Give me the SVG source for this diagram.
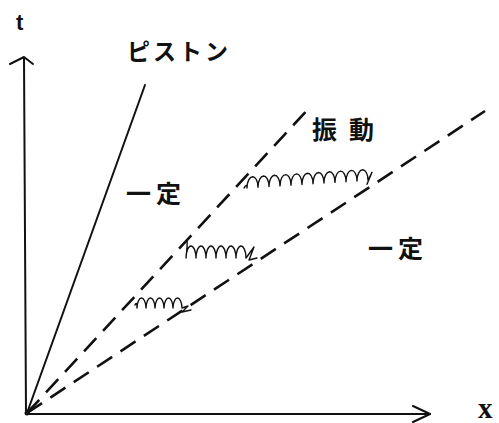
<svg xmlns="http://www.w3.org/2000/svg" width="499" height="423" viewBox="0 0 499 423">
<style>
.ax{fill:none;stroke:#111;stroke-width:2;stroke-linecap:round;stroke-linejoin:round}
.dash{fill:none;stroke:#111;stroke-width:2.6;stroke-dasharray:18 10;stroke-linecap:butt}
.wave{fill:none;stroke:#111;stroke-width:1.4;stroke-linecap:round;stroke-linejoin:round}
.jp{font-family:"Noto Sans CJK JP","Noto Sans CJK SC",sans-serif;font-weight:bold;fill:#111}
.lat{font-weight:bold;fill:#111}
</style>
<rect width="499" height="423" fill="#fff"/>
<g id="connectors">
  <path class="ax" d="M26,414 L24,58"/>
  <polyline class="ax" points="10,64 24,57 33,64"/>
  <path class="ax" d="M26,414 L430,414"/>
  <polyline class="ax" points="413,406 430,414 413,422"/>
  <path class="ax" d="M27,413 L145,85"/>
  <path class="dash" d="M27,413 L311,106"/>
  <path class="dash" d="M27,413 L485,111"/>
  <circle cx="27" cy="413" r="2.5" fill="#111"/>
</g>
<g id="wave-low">
  <path class="wave" d="M135,305 c1,-2 2,-3 2,3 c0,-6 2.5,-10 4.5,-10 c2,0 4.5,4 4.5,10 c0,-6 2.5,-10 4.5,-10 c2,0 4.5,4 4.5,10 c0,-6 2.5,-10 4.5,-10 c2,0 4.5,4 4.5,10 c0,-6 2.5,-10 4.5,-10 c2,0 4.5,4 4.5,10 c0,-6 2.5,-10 4.5,-10 c2,0 4.5,4 4.5,10 l6,-2 l-6,6 l9,-2"/>
</g>
<g id="wave-mid">
  <path class="wave" d="M186,241 c2,-3 1,8 0,17 c0,-7 2.5,-12 5,-12 c2.5,0 5,5 5,12 c0,-7 2.5,-12 5,-12 c2.5,0 5,5 5,12 c0,-7 2.5,-12 5,-12 c2.5,0 5,5 5,12 c0,-7 2.5,-12 5,-12 c2.5,0 5,5 5,12 c0,-7 2.5,-12 5,-12 c2.5,0 5,5 5,12 c0,-7 2.5,-12 5,-12 c2.5,0 5,5 5,12 l8,-11 l-5,13 l8,-2"/>
</g>
<g id="wave-high">
  <path class="wave" d="M244,188 c2,-3 3,-4 3,0 c0,-7 2.7,-11 5.5,-11.3 c2.8,0 5.5,4 5.5,10.6 c0,-7 2.7,-11 5.5,-11.3 c2.8,0 5.5,4 5.5,10.6 c0,-7 2.7,-11 5.5,-11.3 c2.8,0 5.5,4 5.5,10.6 c0,-7 2.7,-11 5.5,-11.3 c2.8,0 5.5,4 5.5,10.6 c0,-7 2.7,-11 5.5,-11.3 c2.8,0 5.5,4 5.5,10.6 c0,-7 2.7,-11 5.5,-11.3 c2.8,0 5.5,4 5.5,10.6 c0,-7 2.7,-11 5.5,-11.3 c2.8,0 5.5,4 5.5,10.6 c0,-7 2.7,-11 5.5,-11.3 c2.8,0 5.5,4 5.5,10.6 c0,-7 2.7,-11 5.5,-11.3 c2.8,0 5.5,4 5.5,10.6 c0,-7 2.7,-11 5.5,-11.3 c2.8,0 5.5,4 5.5,10.6 c0,-7 2.7,-11 5.5,-11.3 c2.8,0 5.5,4 5.5,10.6 l4,-8 l-5,12"/>
</g>
<g id="label-t"><text class="lat" x="16" y="30" font-family="Liberation Sans, sans-serif" font-size="22">t</text></g>
<g id="label-x"><text class="lat" x="478" y="418" font-family="Liberation Serif, serif" font-size="29">x</text></g>
<g id="label-piston"><text class="jp" x="127" y="60" font-size="23" letter-spacing="3">ピストン</text></g>
<g id="label-shindo"><text class="jp" x="312" y="139" font-size="25" letter-spacing="12" font-weight="normal">振動</text></g>
<g id="label-const-left"><text class="jp" x="126" y="203" font-size="25" letter-spacing="5">一定</text></g>
<g id="label-const-right"><text class="jp" x="368" y="258" font-size="25" letter-spacing="5">一定</text></g>
</svg>
